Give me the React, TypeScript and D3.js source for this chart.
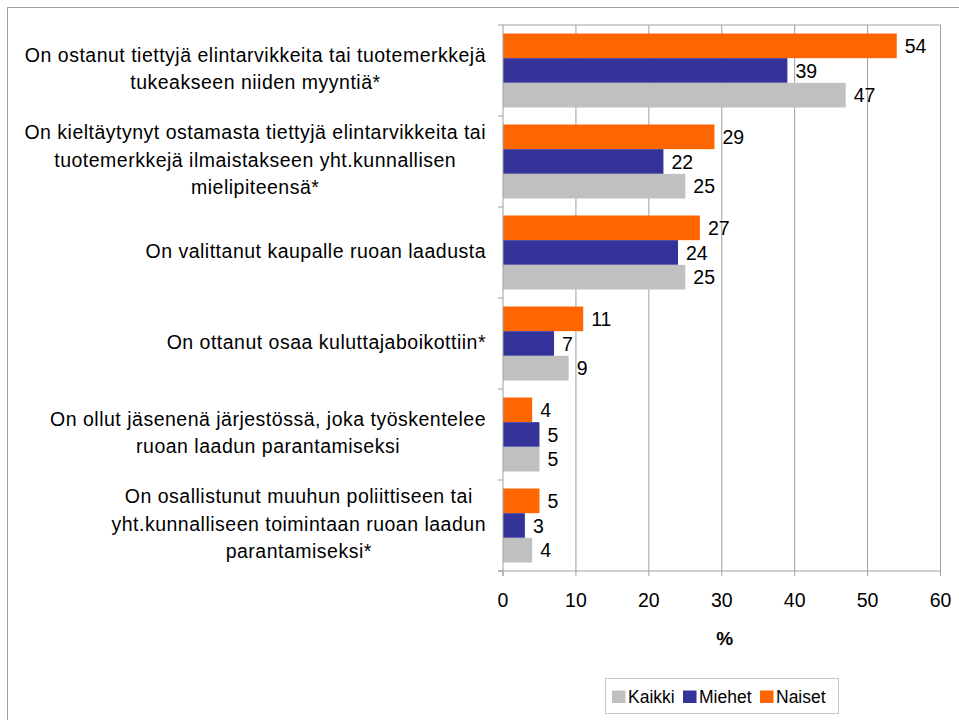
import React from "react";
import * as d3 from "d3";

const categories: string[][] = [
  ["On ostanut tiettyjä elintarvikkeita tai tuotemerkkejä", "tukeakseen niiden myyntiä*"],
  ["On kieltäytynyt ostamasta tiettyjä elintarvikkeita tai", "tuotemerkkejä ilmaistakseen yht.kunnallisen", "mielipiteensä*"],
  ["On valittanut kaupalle ruoan laadusta"],
  ["On ottanut osaa kuluttajaboikottiin*"],
  ["On ollut jäsenenä järjestössä, joka työskentelee", "ruoan laadun parantamiseksi"],
  ["On osallistunut muuhun poliittiseen tai", "yht.kunnalliseen toimintaan ruoan laadun", "parantamiseksi*"],
];
const naiset = [54, 29, 27, 11, 4, 5];
const miehet = [39, 22, 24, 7, 5, 3];
const kaikki = [47, 25, 25, 9, 5, 4];
const seriesNames = ["Naiset", "Miehet", "Kaikki"];
const seriesColors = ["#ff6600", "#333399", "#c0c0c0"];
const legendOrder = ["Kaikki", "Miehet", "Naiset"];
const xTicks = [0, 10, 20, 30, 40, 50, 60];

const FONT = "Liberation Sans, Arial, sans-serif";
const LABEL_SIZE = 19.5;
const LABEL_LS = 0.5;

function measure(s: string, size: number, ls: number): number {
  const c = document.createElement("canvas").getContext("2d");
  if (!c) return s.length * size * 0.5;
  c.font = `${size}px ${FONT}`;
  return c.measureText(s).width + ls * s.length;
}

export default function App() {
  const W = 959, H = 720;
  const left = 503, right = 940.5, top = 25, bottom = 571;
  const x = d3.scaleLinear().domain([0, 60]).range([left, right]);
  const y = d3.scaleBand<number>().domain(d3.range(categories.length)).range([top, bottom]);
  const bw = y.bandwidth();
  const inner = d3.scaleBand<number>().domain([0, 1, 2]).range([8.5, bw - 8.5]);
  const series = [naiset, miehet, kaikki];
  const lineH = 27.5;
  const labelRight = 486;
  return (
    <svg width={W} height={H} style={{ position: "absolute", left: 0, top: 0 }} fontFamily={FONT}>
      <rect x={7.5} y={7.5} width={W + 10} height={H + 10} fill="#fff" stroke="#a0a0a0" />
      {xTicks.slice(1).map((t) => (
        <line key={t} x1={x(t)} x2={x(t)} y1={top} y2={bottom} stroke="#a0a0a0" />
      ))}
      <line x1={left} x2={right} y1={top} y2={top} stroke="#a0a0a0" />
      {series.map((vals, si) =>
        vals.map((v, i) => (
          <g key={`${si}-${i}`}>
            <rect x={x(0)} y={(y(i) as number) + (inner(si) as number)} width={x(v) - x(0)} height={inner.bandwidth()} fill={seriesColors[si]} />
            <text x={x(v) + 8} y={(y(i) as number) + (inner(si) as number) + inner.bandwidth() / 2 + 7} fontSize={19.5} fill="#000">{v}</text>
          </g>
        ))
      )}
      <line x1={left} x2={left} y1={top} y2={bottom + 5} stroke="#a0a0a0" />
      <line x1={left - 5} x2={right} y1={bottom} y2={bottom} stroke="#a0a0a0" />
      {d3.range(categories.length + 1).map((k) => (
        <line key={k} x1={left - 5} x2={left} y1={top + k * bw} y2={top + k * bw} stroke="#a0a0a0" />
      ))}
      {xTicks.map((t) => (
        <g key={t}>
          <line x1={x(t)} x2={x(t)} y1={bottom} y2={bottom + 5} stroke="#a0a0a0" />
          <text x={x(t)} y={bottom + 36} textAnchor="middle" fontSize={19.5} fill="#000">{t}</text>
        </g>
      ))}
      <text x={(left + right) / 2 + 3} y={645} textAnchor="middle" fontSize={19} fontWeight="bold" fill="#000">%</text>
      {categories.map((lines, i) => {
        const cy = (y(i) as number) + bw / 2;
        const start = cy - ((lines.length - 1) * lineH) / 2;
        const maxW = Math.max(...lines.map((l) => measure(l, LABEL_SIZE, LABEL_LS)));
        const cx = labelRight - maxW / 2;
        return (
          <text key={i} textAnchor="middle" fontSize={LABEL_SIZE} letterSpacing={LABEL_LS} fill="#000">
            {lines.map((l, j) => (
              <tspan key={j} x={cx} y={start + j * lineH + 5}>{l}</tspan>
            ))}
          </text>
        );
      })}
      <rect x={605.5} y={678.5} width={233} height={35} fill="#fff" stroke="#c8c8c8" />
      {legendOrder.map((name, k) => {
        const si = seriesNames.indexOf(name);
        const offs = [612, 683, 760];
        return (
          <g key={name}>
            <rect x={offs[k]} y={690.5} width={13.5} height={12.5} fill={seriesColors[si]} />
            <text x={offs[k] + 16} y={703} fontSize={17.5} fill="#000">{name}</text>
          </g>
        );
      })}
    </svg>
  );
}
